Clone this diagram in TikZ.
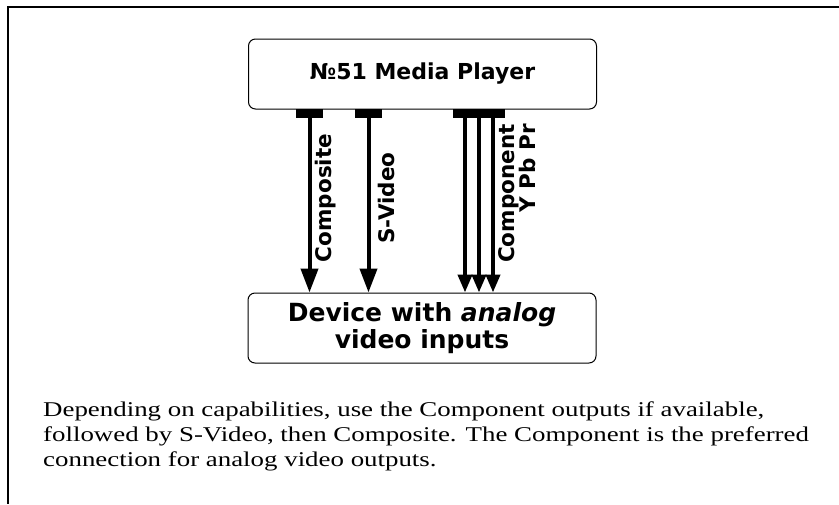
\documentclass[tikz,border=0pt]{standalone}
\usepackage{fontspec}
\setmainfont{Liberation Serif}[FakeStretch=1.28]
\newfontfamily\boxfont{DejaVu Sans}
\usetikzlibrary{arrows.meta}
\tikzset{unitbox/.style={draw, rounded corners=7pt, line width=1pt, minimum width=348pt, minimum height=70pt, align=center, font=\boxfont\bfseries\fontsize{22}{27}\selectfont}}
\tikzset{plug/.style={fill=black, inner sep=0pt, minimum height=9pt}}
\tikzset{sig/.style={line width=4pt, -{Triangle[length=24pt,width=17pt]}}}
\tikzset{compsig/.style={line width=4pt, -{Triangle[length=18pt,width=14pt]}}}
\tikzset{siglabel/.style={rotate=90, inner sep=0pt, font=\boxfont\bfseries\fontsize{21.5}{20}\selectfont}}

\begin{document}
\begin{tikzpicture}[x=1pt, y=-1pt]

\useasboundingbox (0,0) rectangle (839,504);
\draw[line width=2pt] (839,7) -- (7.5,7) -- (7.5,504);

\node[unitbox] (player) at (422.5, 74) {№51 Media Player};
\node[unitbox, font=\boxfont\bfseries\fontsize{25}{27}\selectfont] (device) at (422, 328) {Device with \textit{analog}\\ video inputs};

\node[plug, minimum width=27pt] (cpst) at (309.5, 113.5) {};
\node[plug, minimum width=27pt] (svid) at (368.5, 113.5) {};
\node[plug, minimum width=52pt] (comp) at (479, 113.5) {};

\draw[sig] (cpst.south) -- (cpst.south |- device.north);
\draw[sig] (svid.south) -- (svid.south |- device.north);
\draw[compsig] ([xshift=-14pt]comp.south) -- ([xshift=-14pt]comp.south |- device.north);
\draw[compsig] (comp.south) -- (comp.south |- device.north);
\draw[compsig] ([xshift=14pt]comp.south) -- ([xshift=14pt]comp.south |- device.north);

\node[siglabel] (cpstlbl) at (326, 198) {Composite};
\node[siglabel] (svidlbl) at (386, 198) {S-Video};
\node[siglabel, align=right, anchor=north east] (complbl) at (498, 124) {Component\\ Y Pb Pr};

\node[anchor=north west, align=left, inner sep=0pt, font=\fontsize{21}{25}\selectfont] (note) at (43, 402)
{Depending on capabilities, use the Component outputs if available,\\
followed by S-Video, then Composite. The Component is the preferred\\
connection for analog video outputs.};

\end{tikzpicture}
\end{document}
